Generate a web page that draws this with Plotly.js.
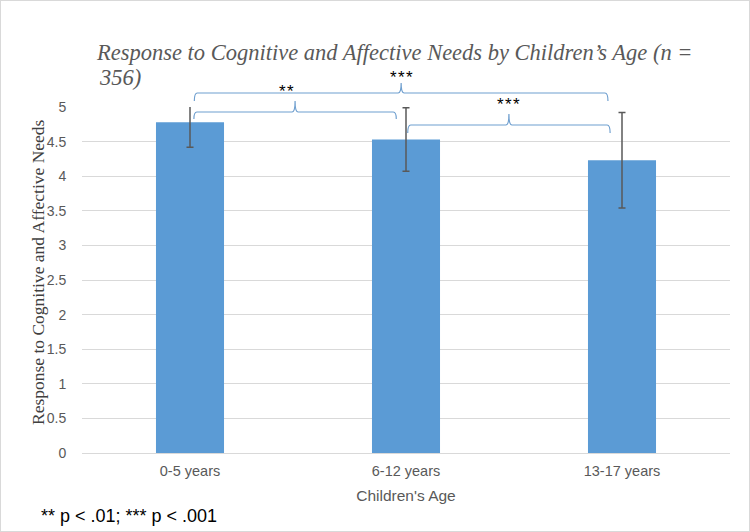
<!DOCTYPE html>
<html>
<head>
<meta charset="utf-8">
<script src="https://cdn.plot.ly/plotly-3.0.1.min.js"></script>
<style>
  html, body { margin: 0; padding: 0; background: #ffffff; }
  #frame { width: 748px; height: 530px; border: 1px solid #d9d9d9; }
  #chart { width: 748px; height: 530px; }
</style>
</head>
<body>
<div id="frame"><div id="chart"></div></div>
<script>
// ---- data ----
const categories = ["0-5 years", "6-12 years", "13-17 years"];
const means = [4.78, 4.53, 4.23];
const errors = [0.36, 0.46, 0.69];
const yTickVals = [0, 0.5, 1, 1.5, 2, 2.5, 3, 3.5, 4, 4.5, 5];
const yTickText = ["0", "0.5", "1", "1.5", "2", "2.5", "3", "3.5", "4", "4.5", "5"];
const comparisons = [[0, 2], [0, 1], [1, 2]];
const comparisonLabels = ["***", "**", "***"];
const titleLine1 = "Response to Cognitive and Affective Needs by Children’s Age (n =";
const titleLine2 = "356)";
const yTitle = "Response to Cognitive and Affective Needs";
const xTitle = "Children's Age";
const footnote = "** p &lt; .01; *** p &lt; .001";

// ---- layout helpers (pixel geometry of brackets) ----
const plotTopPx = 106, plotH = 346, catPx = 216, plotW = 648;
function py(px) { return (plotTopPx + plotH - px) / plotH; } // px inside frame -> paper y
function pxx(px) { return (px - 81) / plotW; }                // px inside frame -> paper x
const bracketGeom = [
  { y: 92, drop: 8, notch: 10, inset: [0.02, -0.065], labY: 76 },
  { y: 111, drop: 7, notch: 11, inset: [0.018, -0.045], labY: 91 },
  { y: 124, drop: 8, notch: 11, inset: [0.008, -0.055], labY: 104 }
];
const shapes = [];
const annotations = [];
comparisons.forEach(function (c, k) {
  const g = bracketGeom[k];
  const x0 = c[0] + g.inset[0], x1 = c[1] + g.inset[1];
  const xm = (x0 + x1) / 2;
  const dx = 3 / catPx;
  const yl = py(g.y), yd = py(g.y + g.drop), yn = py(g.y - g.notch);
  const path = 'M ' + x0 + ',' + yd +
    ' Q ' + x0 + ',' + yl + ' ' + (x0 + dx) + ',' + yl +
    ' L ' + (xm - dx) + ',' + yl +
    ' Q ' + xm + ',' + yl + ' ' + xm + ',' + yn +
    ' Q ' + xm + ',' + yl + ' ' + (xm + dx) + ',' + yl +
    ' L ' + (x1 - dx) + ',' + yl +
    ' Q ' + x1 + ',' + yl + ' ' + x1 + ',' + yd;
  shapes.push({ type: 'path', xref: 'x', yref: 'paper', path: path,
    line: { color: '#6f9fcf', width: 1.2 } });
  annotations.push({ xref: 'x', yref: 'paper', x: xm - (k === 1 ? 0.04 : 0), y: py(g.labY),
    text: comparisonLabels[k].split('').join('\u200A'),
    showarrow: false, xanchor: 'center', yanchor: 'middle',
    font: { family: 'Liberation Sans, Arial, sans-serif', size: 17, color: '#000000' } });
});
annotations.push({ xref: 'paper', yref: 'paper', x: pxx(38), y: py(515), xanchor: 'left', yanchor: 'middle',
  text: footnote, showarrow: false,
  font: { family: 'Liberation Sans, Arial, sans-serif', size: 18, color: '#000000' } });
annotations.push({ xref: 'paper', yref: 'paper', x: pxx(96), y: py(76), xanchor: 'left', yanchor: 'middle',
  text: titleLine2, showarrow: false,
  font: { family: 'Liberation Serif, Times New Roman, serif', size: 22.5, color: '#595959', style: 'italic' } });
annotations.push({ xref: 'paper', yref: 'paper', x: pxx(37), y: py(271), xanchor: 'center', yanchor: 'middle',
  text: yTitle, textangle: -90, showarrow: false,
  font: { family: 'Liberation Serif, Times New Roman, serif', size: 17.5, color: '#404040' } });

const trace = {
  type: 'bar',
  x: categories,
  y: means,
  width: 0.315,
  marker: { color: '#5b9bd5', line: { width: 0 } },
  error_y: { type: 'data', array: errors, visible: true, color: '#595959', thickness: 1.5, width: 3.5 },
  hoverinfo: 'x+y'
};

const layout = {
  width: 748, height: 530,
  margin: { l: 81, r: 19, t: 106, b: 78 },
  paper_bgcolor: '#ffffff', plot_bgcolor: '#ffffff',
  showlegend: false,
  bargap: 0.685,
  title: {
    text: titleLine1,
    xref: 'paper', x: pxx(96), xanchor: 'left',
    yref: 'container', y: 1 - 51 / 530, yanchor: 'middle',
    font: { family: 'Liberation Serif, Times New Roman, serif', size: 22.5, color: '#595959', style: 'italic' }
  },
  xaxis: {
    type: 'category', range: [-0.5, 2.5],
    showgrid: false, zeroline: false, showline: false,
    ticks: 'outside', ticklen: 5, tickcolor: 'rgba(0,0,0,0)',
    tickfont: { family: 'Liberation Sans, Arial, sans-serif', size: 14.5, color: '#595959' },
    title: { text: xTitle, standoff: 11,
      font: { family: 'Liberation Sans, Arial, sans-serif', size: 15.5, color: '#595959' } },
    automargin: false, fixedrange: true
  },
  yaxis: {
    range: [0, 5], tickvals: yTickVals, ticktext: yTickText,
    showgrid: true, gridcolor: '#d9d9d9', gridwidth: 1,
    zeroline: true, zerolinecolor: '#d9d9d9', zerolinewidth: 1,
    showline: false, ticks: 'outside', ticklen: 12, tickcolor: 'rgba(0,0,0,0)',
    tickfont: { family: 'Liberation Sans, Arial, sans-serif', size: 14, color: '#595959' },
    automargin: false, fixedrange: true
  },
  shapes: shapes,
  annotations: annotations
};

Plotly.newPlot('chart', [trace], layout, { displayModeBar: false, staticPlot: true });
</script>
</body>
</html>
